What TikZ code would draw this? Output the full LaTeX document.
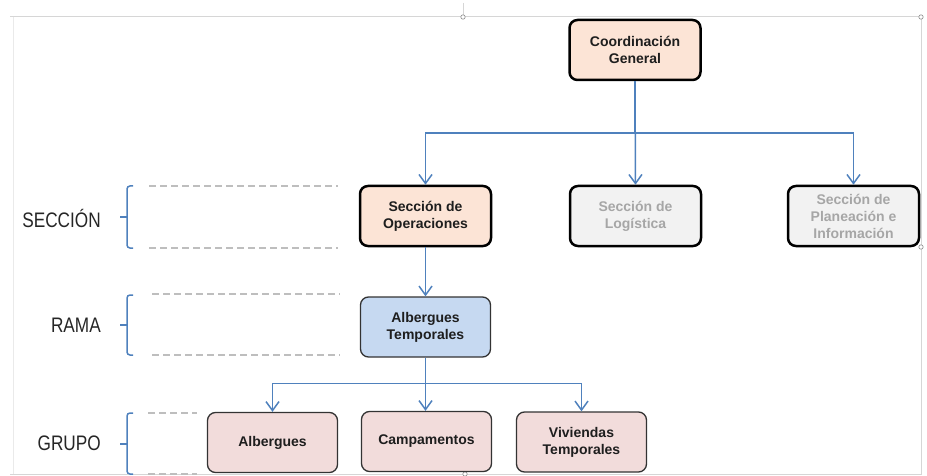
\documentclass[tikz,border=0pt]{standalone}
\usepackage{fontspec}
\setmainfont{Liberation Sans}
\newfontfamily\narrowfont[FakeStretch=0.82]{Liberation Sans}
\usetikzlibrary{arrows.meta}
\definecolor{peach}{RGB}{252,228,214}
\definecolor{lblue}{RGB}{198,217,241}
\definecolor{pinkf}{RGB}{242,220,219}
\definecolor{greyf}{RGB}{242,242,242}
\definecolor{greyt}{RGB}{166,166,166}
\definecolor{linkb}{RGB}{79,129,189}
\definecolor{dashg}{RGB}{190,190,190}
\definecolor{framec}{RGB}{214,214,214}
\definecolor{txt}{RGB}{30,30,30}
\tikzset{
  x=1pt, y=-1pt,
  box/.style={rectangle, rounded corners=8pt, align=center, inner sep=0pt,
    font=\bfseries\fontsize{14}{17}\selectfont, text=txt},
  mainbox/.style={box, draw=black, line width=2.5pt, minimum width=131pt, minimum height=60pt},
  subbox/.style={box, draw=black!80, line width=1.3pt, minimum width=130pt, minimum height=60pt},
  peachbox/.style={mainbox, fill=peach},
  greybox/.style={mainbox, fill=greyf, text=greyt},
  bluebox/.style={subbox, fill=lblue},
  pinkbox/.style={subbox, fill=pinkf},
  conn/.style={draw=linkb, line width=1.5pt},
  arr/.style={conn, -{Straight Barb[length=9pt,width=13pt,line width=1.5pt]}},
  lvl/.style={anchor=east, inner sep=0pt, text=black!85, font=\narrowfont\fontsize{21}{25}\selectfont},
  brk/.style={draw=linkb, line width=1.5pt, rounded corners=3pt},
  guide/.style={draw=dashg, line width=1.5pt, dash pattern=on 7pt off 4pt},
  frame/.style={draw=framec, line width=1pt},
  handle/.style={draw=black!45, fill=white, line width=0.6pt}
}
\begin{document}
\begin{tikzpicture}
\useasboundingbox (0,0) rectangle (927,476);
% selection frame of the screenshot
\draw[frame] (10,17) -- (921,17) -- (921,474) -- (10,474);
\draw[frame, draw=framec!50] (13,17) -- (13,474);
\draw[frame] (463,3) -- (463,15);
\foreach \p in {(463,17),(921,17),(921,247),(465,474)} \draw[handle] \p circle (2.2pt);

% boxes
\node[peachbox] (cg) at (635,50) {Coordinación\\General};
\node[peachbox] (op) at (425.5,216) {Sección de\\Operaciones};
\node[greybox] (lo) at (635.5,216) {Sección de\\Logística};
\node[greybox] (pl) at (853.5,216) {Sección de\\Planeación e\\Información};
\node[bluebox] (at) at (425.5,327) {Albergues\\Temporales};
\node[pinkbox] (al) at (272.5,442.5) {Albergues};
\node[pinkbox] (ca) at (426.5,441.5) {Campamentos};
\node[pinkbox] (vi) at (581.5,442) {Viviendas\\Temporales};

% connectors
\draw[arr] (cg.south) -- ++(0,52) -| (op.north);
\draw[arr] (cg.south) -- ++(0,52) -| (pl.north);
\draw[arr] (cg.south) -- (lo.north);
\draw[arr] (op.south) -- (at.north);
\draw[arr] (at.south) -- ++(0,26) -| (al.north);
\draw[arr] (at.south) -- ++(0,26) -| (vi.north);
\draw[arr] (at.south) -- (at.south |- ca.north);

% level labels
\node[lvl] (lsec) at (101,218) {SECCIÓN};
\node[lvl] (lrama) at (101,325) {RAMA};
\node[lvl] (lgrupo) at (101,443) {GRUPO};

% brackets
\draw[brk] (133,186) -- (127,186) -- (127,248) -- (133,248);
\draw[conn] (127,217) -- (120,217);
\draw[brk] (133,295) -- (127,295) -- (127,355) -- (133,355);
\draw[conn] (127,325) -- (120,325);
\draw[brk] (133,413) -- (127,413) -- (127,474) -- (133,474);
\draw[conn] (127,444) -- (120,444);

% dashed guides
\draw[guide] (149,186) -- (338,186);
\draw[guide] (149,248) -- (338,248);
\draw[guide] (152,294) -- (340,294);
\draw[guide] (152,355) -- (340,355);
\draw[guide] (148,413) -- (197,413);
\draw[guide] (148,474) -- (197,474);
\end{tikzpicture}
\end{document}
